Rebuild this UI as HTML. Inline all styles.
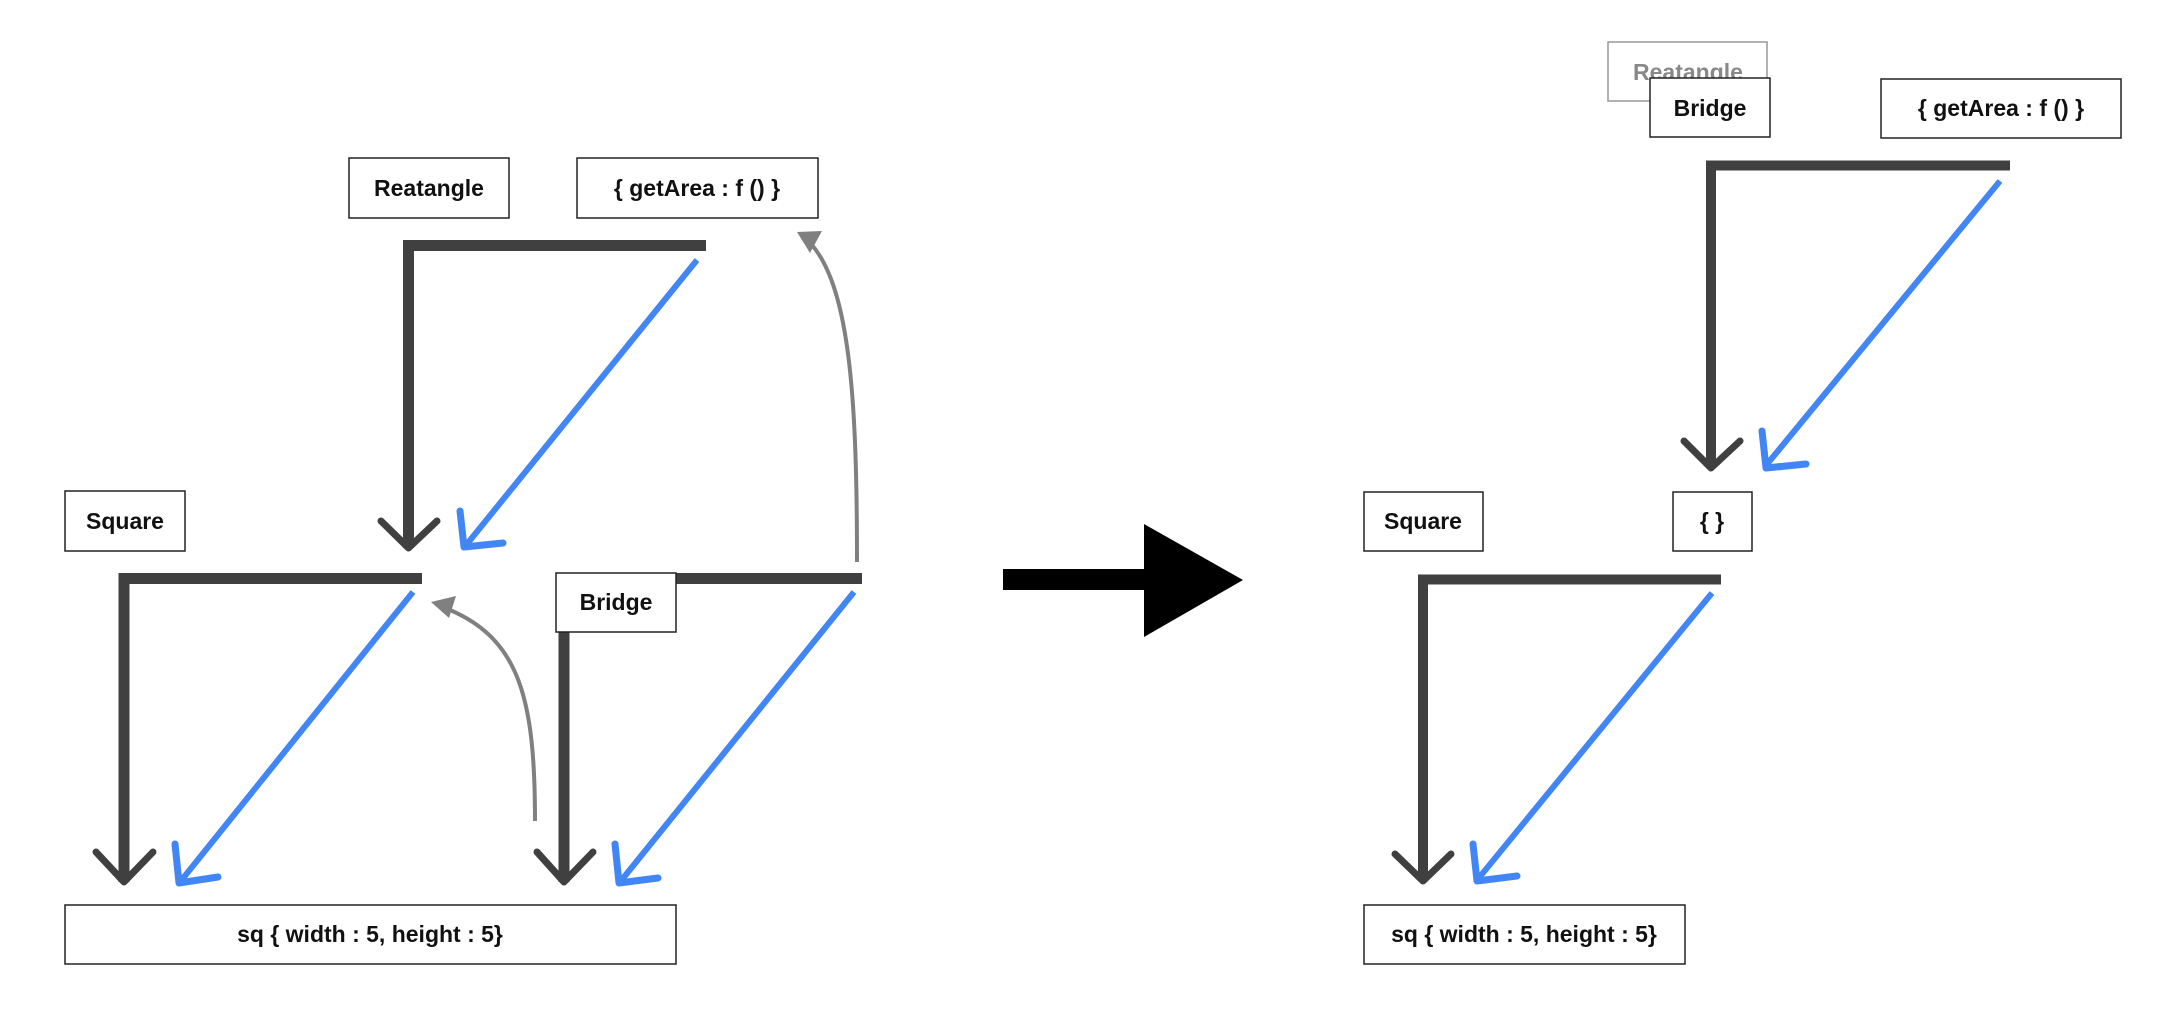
<!DOCTYPE html>
<html><head><meta charset="utf-8"><style>
html,body{margin:0;padding:0;background:#fff;}
svg{display:block;}
text{font-family:"Liberation Sans",sans-serif;font-weight:bold;font-size:23px;fill:#111;}
</style></head><body>
<svg width="2161" height="1016" viewBox="0 0 2161 1016" xmlns="http://www.w3.org/2000/svg">
<rect width="2161" height="1016" fill="#fff"/>
<g fill="none" stroke-linecap="round" stroke-linejoin="round">
<!-- LEFT -->
<path d="M706,245.5 H408.5 V548" stroke="#404040" stroke-width="11" stroke-linecap="butt" stroke-linejoin="miter"/>
<path d="M381,521 L408.5,548 L437,521" stroke="#404040" stroke-width="7"/>
<path d="M697,260 L467,544" stroke="#4285f4" stroke-width="6" stroke-linecap="butt"/>
<path d="M460,511 L464,547 L503,543" stroke="#4285f4" stroke-width="7"/>
<path d="M422,578.5 H124 V882" stroke="#404040" stroke-width="11" stroke-linecap="butt" stroke-linejoin="miter"/>
<path d="M96,852 L124,882 L153,852" stroke="#404040" stroke-width="7"/>
<path d="M413,592 L180,882" stroke="#4285f4" stroke-width="6" stroke-linecap="butt"/>
<path d="M175,844 L179,883 L218,877" stroke="#4285f4" stroke-width="7"/>
<path d="M862,578.5 H676" stroke="#404040" stroke-width="11" stroke-linecap="butt"/>
<path d="M564,632 V882" stroke="#404040" stroke-width="11" stroke-linecap="butt"/>
<path d="M537,852 L564,882 L593,852" stroke="#404040" stroke-width="7"/>
<path d="M854,592 L620,882" stroke="#4285f4" stroke-width="6" stroke-linecap="butt"/>
<path d="M615,844 L619,883 L658,878" stroke="#4285f4" stroke-width="7"/>
<path d="M857,562 C857,400 850,290 812,245" stroke="#808080" stroke-width="4" stroke-linecap="butt"/>
<path d="M535,821 C535,700 520,640 450,610" stroke="#808080" stroke-width="4" stroke-linecap="butt"/>
<!-- RIGHT -->
<path d="M2010,165.5 H1711 V468" stroke="#404040" stroke-width="10" stroke-linecap="butt" stroke-linejoin="miter"/>
<path d="M1684,441 L1711,468 L1740,441" stroke="#404040" stroke-width="7"/>
<path d="M2000,181 L1768,463" stroke="#4285f4" stroke-width="6" stroke-linecap="butt"/>
<path d="M1762,431 L1766,468 L1806,464" stroke="#4285f4" stroke-width="7"/>
<path d="M1721,579.5 H1423 V881" stroke="#404040" stroke-width="10" stroke-linecap="butt" stroke-linejoin="miter"/>
<path d="M1395,854 L1423,881 L1451,854" stroke="#404040" stroke-width="7"/>
<path d="M1712,593 L1478,879" stroke="#4285f4" stroke-width="6" stroke-linecap="butt"/>
<path d="M1473,844 L1477,881 L1517,876" stroke="#4285f4" stroke-width="7"/>
</g>
<polygon points="797,232 822,231 810,253" fill="#808080"/>
<polygon points="431,602 456,596 449,618" fill="#808080"/>
<rect x="1003" y="569" width="142" height="21" fill="#000"/>
<polygon points="1144,524 1243,580 1144,637" fill="#000"/>
<g stroke="#222" stroke-width="1.5" fill="#fff">
<rect x="349" y="158" width="160" height="60"/>
<rect x="577" y="158" width="241" height="60"/>
<rect x="65" y="491" width="120" height="60"/>
<rect x="556" y="573" width="120" height="59"/>
<rect x="65" y="905" width="611" height="59"/>
<rect x="1608" y="42" width="159" height="59" stroke="#999"/>
</g>
<text x="1688" y="80" text-anchor="middle" style="fill:#888">Reatangle</text>
<g stroke="#222" stroke-width="1.5" fill="#fff">
<rect x="1650" y="78" width="120" height="59"/>
<rect x="1881" y="79" width="240" height="59"/>
<rect x="1364" y="492" width="119" height="59"/>
<rect x="1673" y="492" width="79" height="59"/>
<rect x="1364" y="905" width="321" height="59"/>
</g>
<g text-anchor="middle">
<text x="429" y="196">Reatangle</text>
<text x="697" y="196">{ getArea : f () }</text>
<text x="125" y="529">Square</text>
<text x="616" y="610">Bridge</text>
<text x="370" y="942">sq { width : 5, height : 5}</text>
<text x="1710" y="116">Bridge</text>
<text x="2001" y="116">{ getArea : f () }</text>
<text x="1423" y="529">Square</text>
<text x="1712" y="529">{ }</text>
<text x="1524" y="942">sq { width : 5, height : 5}</text>
</g>
</svg>
</body></html>
